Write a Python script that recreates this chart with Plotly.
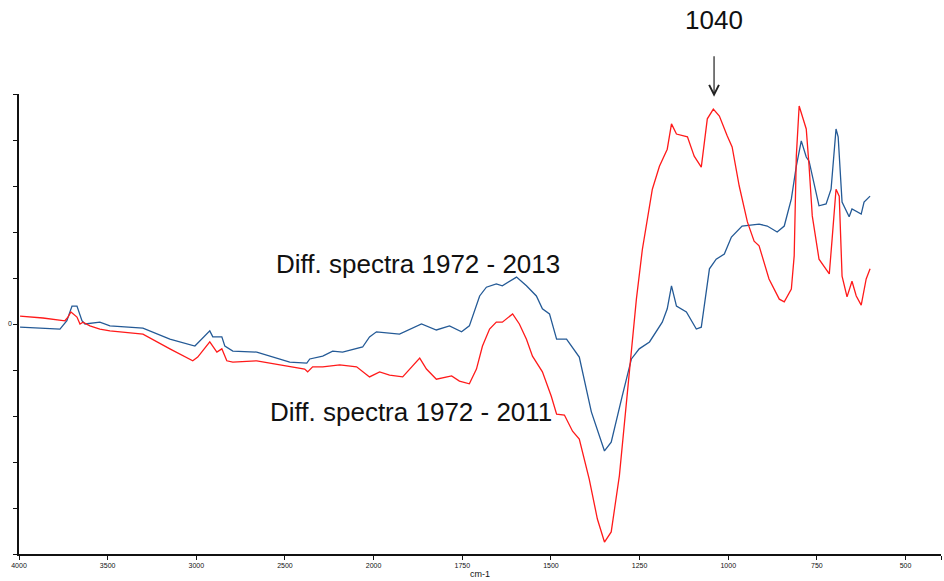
import plotly.graph_objects as go

# Wavenumber (cm-1) and absorbance difference for the two difference spectra
wn_2013 = [3994, 3769, 3730, 3701, 3673, 3645, 3628, 3544, 3487, 3301, 3149, 3008, 2924, 2907,
           2856, 2839, 2794, 2659, 2473, 2377, 2360, 2287, 2231, 2175, 2062, 2023, 1992, 1955,
           1927, 1865, 1823, 1786, 1752, 1730, 1701, 1682, 1654, 1637, 1597, 1569, 1541, 1524,
           1504, 1484, 1456, 1420, 1386, 1349, 1330, 1299, 1273, 1251, 1222, 1186, 1172, 1160,
           1146, 1118, 1090, 1076, 1062, 1053, 1034, 1011, 991, 961, 913, 890, 862, 842, 822,
           808, 794, 780, 772, 744, 724, 710, 696, 690, 679, 659, 651, 625, 617, 600]
abs_2013 = [-0.007, -0.011, 0.007, 0.039, 0.039, 0.007, 0.000, 0.004, -0.004, -0.009, -0.033,
            -0.048, -0.015, -0.028, -0.028, -0.048, -0.059, -0.061, -0.083, -0.085, -0.076,
            -0.070, -0.059, -0.061, -0.050, -0.028, -0.017, -0.020, -0.022, 0.000, -0.013,
            -0.004, -0.017, -0.004, 0.061, 0.080, 0.087, 0.083, 0.102, 0.083, 0.061, 0.033,
            0.022, -0.033, -0.033, -0.072, -0.191, -0.276, -0.257, -0.157, -0.076, -0.054,
            -0.039, 0.004, 0.033, 0.083, 0.039, 0.026, -0.011, -0.007, 0.070, 0.120, 0.141,
            0.152, 0.189, 0.213, 0.217, 0.213, 0.200, 0.213, 0.272, 0.343, 0.398, 0.363,
            0.354, 0.257, 0.261, 0.293, 0.424, 0.407, 0.265, 0.233, 0.250, 0.239, 0.265, 0.278]

wn_2011 = [3994, 3865, 3741, 3724, 3707, 3673, 3656, 3639, 3600, 3544, 3487, 3301, 3149, 3020,
           2992, 2924, 2884, 2856, 2828, 2794, 2659, 2473, 2389, 2372, 2344, 2287, 2191, 2096,
           2062, 2023, 1983, 1955, 1918, 1870, 1851, 1823, 1780, 1758, 1730, 1710, 1693, 1673,
           1654, 1637, 1608, 1589, 1569, 1552, 1524, 1499, 1484, 1462, 1439, 1420, 1392, 1369,
           1349, 1330, 1307, 1287, 1273, 1259, 1242, 1214, 1194, 1172, 1160, 1146, 1115, 1096,
           1076, 1059, 1042, 1025, 1003, 989, 969, 946, 927, 913, 885, 856, 842, 822, 814, 808,
           800, 792, 780, 772, 763, 744, 715, 707, 696, 687, 679, 665, 651, 639, 625, 611, 600]
abs_2011 = [0.017, 0.013, 0.007, 0.015, 0.026, 0.015, 0.000, 0.004, -0.004, -0.011, -0.015,
            -0.022, -0.054, -0.080, -0.072, -0.039, -0.061, -0.054, -0.080, -0.083, -0.080,
            -0.093, -0.098, -0.104, -0.093, -0.093, -0.089, -0.093, -0.104, -0.115, -0.104,
            -0.111, -0.115, -0.074, -0.098, -0.120, -0.113, -0.124, -0.130, -0.098, -0.048,
            -0.011, 0.004, 0.004, 0.022, 0.000, -0.033, -0.070, -0.104, -0.157, -0.196,
            -0.198, -0.233, -0.250, -0.337, -0.424, -0.474, -0.452, -0.330, -0.163, -0.054,
            0.054, 0.163, 0.293, 0.343, 0.380, 0.435, 0.413, 0.407, 0.365, 0.341, 0.446,
            0.467, 0.452, 0.409, 0.385, 0.300, 0.222, 0.180, 0.170, 0.098, 0.054, 0.048,
            0.076, 0.148, 0.365, 0.474, 0.452, 0.424, 0.343, 0.235, 0.141, 0.109, 0.185,
            0.293, 0.278, 0.104, 0.059, 0.093, 0.061, 0.041, 0.098, 0.120]

tick_wn = [4000, 3500, 3000, 2500, 2000, 1750, 1500, 1250, 1000, 750, 500, 400]
tick_labels = ["4000", "3500", "3000", "2500", "2000", "1750", "1500", "1250", "1000", "750", "500", "400"]

y_ticks = [-0.5, -0.4, -0.3, -0.2, -0.1, 0.0, 0.1, 0.2, 0.3, 0.4, 0.5]
y_labels = ["", "", "", "", "", "0", "", "", "", "", ""]

peak_wn = 1040


def axis_pos(w):
    """Spectrometer-style scale: 500 cm-1 per division above 2000, 250 below."""
    if w >= 2000:
        return (4000 - w) / 500.0
    return 4.0 + (2000 - w) / 250.0


fig = go.Figure()
fig.add_trace(go.Scatter(x=[axis_pos(w) for w in wn_2013], y=abs_2013, mode="lines",
                         line=dict(color="#245a96", width=1.3), name="1972 - 2013"))
fig.add_trace(go.Scatter(x=[axis_pos(w) for w in wn_2011], y=abs_2011, mode="lines",
                         line=dict(color="#ff1a1a", width=1.3), name="1972 - 2011"))

font_main = "Liberation Sans, Arial, sans-serif"

fig.add_annotation(x=axis_pos(1876), y=0.13, text="Diff. spectra 1972 - 2013", showarrow=False,
                   font=dict(family=font_main, size=26, color="#111"), xanchor="center", yanchor="middle")
fig.add_annotation(x=axis_pos(1896), y=-0.191, text="Diff. spectra 1972 - 2011", showarrow=False,
                   font=dict(family=font_main, size=26, color="#111"), xanchor="center", yanchor="middle")

# Peak marker at 1040 cm-1
fig.add_annotation(x=axis_pos(peak_wn), y=0.494, text="", showarrow=True, ax=0, ay=-42,
                   arrowhead=5, arrowsize=1.6, arrowwidth=1.2, arrowcolor="#222")
fig.add_annotation(x=axis_pos(peak_wn), y=0.5, yshift=74, text=str(peak_wn), showarrow=False,
                   font=dict(family=font_main, size=26, color="#111"), xanchor="center", yanchor="middle")

fig.update_layout(
    width=944, height=581,
    margin=dict(l=19, r=3, t=94, b=27),
    paper_bgcolor="white", plot_bgcolor="white",
    showlegend=False,
    font=dict(family=font_main, color="#111"),
)
fig.update_xaxes(
    range=[0, axis_pos(400)], tickvals=[axis_pos(w) for w in tick_wn], ticktext=tick_labels,
    showgrid=False, zeroline=False, showline=True, linecolor="#111", linewidth=1.5,
    ticks="outside", ticklen=4, tickcolor="#111", tickwidth=1, tickfont=dict(size=7),
    title=dict(text="cm-1", font=dict(size=9), standoff=2),
)
fig.update_yaxes(
    range=[-0.5, 0.5], tickvals=y_ticks, ticktext=y_labels,
    showgrid=False, zeroline=False, showline=True, linecolor="#111", linewidth=1.5,
    ticks="outside", ticklen=4, tickcolor="#111", tickwidth=1, tickfont=dict(size=7),
)

fig.write_html("out.html")
